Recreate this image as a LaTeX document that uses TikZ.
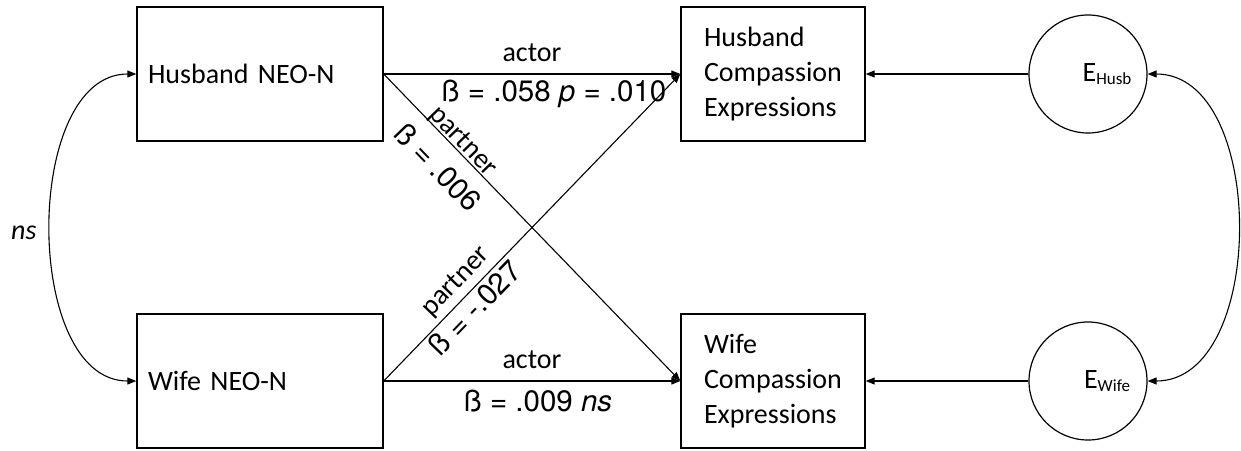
\documentclass[tikz,border=0pt]{standalone}
\usepackage{fontspec}
\setmainfont{Carlito}
\newfontfamily\betafont{texgyreheros}[Extension=.otf, UprightFont=*-regular,
  ItalicFont=*-italic, BoldFont=*-bold]
\usetikzlibrary{arrows.meta,positioning}

\begin{document}
\begin{tikzpicture}[
  x=1pt, y=-1pt,
  var/.style={draw, line width=1.4pt, align=left, font=\fontsize{28}{35}\selectfont,
             minimum height=134pt, minimum width=184pt, inner sep=0pt},
  res/.style={draw, circle, line width=1.2pt, minimum size=118pt, inner sep=0pt},
  arr/.style={-{Triangle[length=9pt,width=7pt]}, line width=1.1pt},
  dbl/.style={{Triangle[length=9pt,width=7pt]}-{Triangle[length=9pt,width=7pt]}, line width=1.1pt},
  lab/.style={font=\fontsize{28}{30}\selectfont, inner sep=0pt},
  coef/.style={font=\betafont\fontsize{29.5}{31}\selectfont, inner sep=0pt}
]
\useasboundingbox (0,0) rectangle (1241,450);
% observed variables
\node[var, text width=224pt, inner xsep=11pt] (hneo) at (260,74) {Husband NEO-N};
\node[var, text width=224pt, inner xsep=11pt] (wneo) at (260,381) {Wife NEO-N};
\node[var] (hcomp) at (773,74) {Husband\\Compassion\\Expressions};
\node[var] (wcomp) at (773,381) {Wife\\Compassion\\Expressions};
% residuals
\node[res, label={[lab, xshift=19pt]center:{E{\fontsize{17}{17}\selectfont\raisebox{-3pt}{Husb}}}}] (ehusb) at (1088,74) {};
\node[res, label={[lab, xshift=19pt]center:{E{\fontsize{17}{17}\selectfont\raisebox{-3pt}{Wife}}}}] (ewife) at (1088,381) {};
% actor paths
\draw[arr] (hneo.east) -- node[lab, midway, above=12pt]{actor}
  node[coef, midway, below=5pt, xshift=22pt]{ß = .058 \textit{p} = .010} (hcomp.west);
\draw[arr] (wneo.east) -- node[lab, midway, above=12pt]{actor}
  node[coef, midway, below=8pt, xshift=6pt]{ß = .009 \textit{ns}} (wcomp.west);
% partner paths
\draw[arr] (hneo.east) -- node[lab, pos=.243, sloped, above=-2pt]{partner}
  node[coef, pos=.246, sloped, below=14pt]{ß = .006} (wcomp.west);
\draw[arr] (wneo.east) -- node[lab, pos=.285, sloped, above=5pt]{partner}
  node[coef, pos=.271, sloped, below=3pt]{ß = -.027} (hcomp.west);
% residual paths
\draw[arr] (ehusb.west) -- (hcomp.east);
\draw[arr] (ewife.west) -- (wcomp.east);
% covariances
\draw[dbl] (hneo.west) to[out=180, in=180, looseness=.95]
  node[lab, midway, left=14pt, yshift=-5pt]{\itshape ns} (wneo.west);
\draw[dbl] (ehusb.east) to[out=0, in=0] (ewife.east);
\end{tikzpicture}
\end{document}
